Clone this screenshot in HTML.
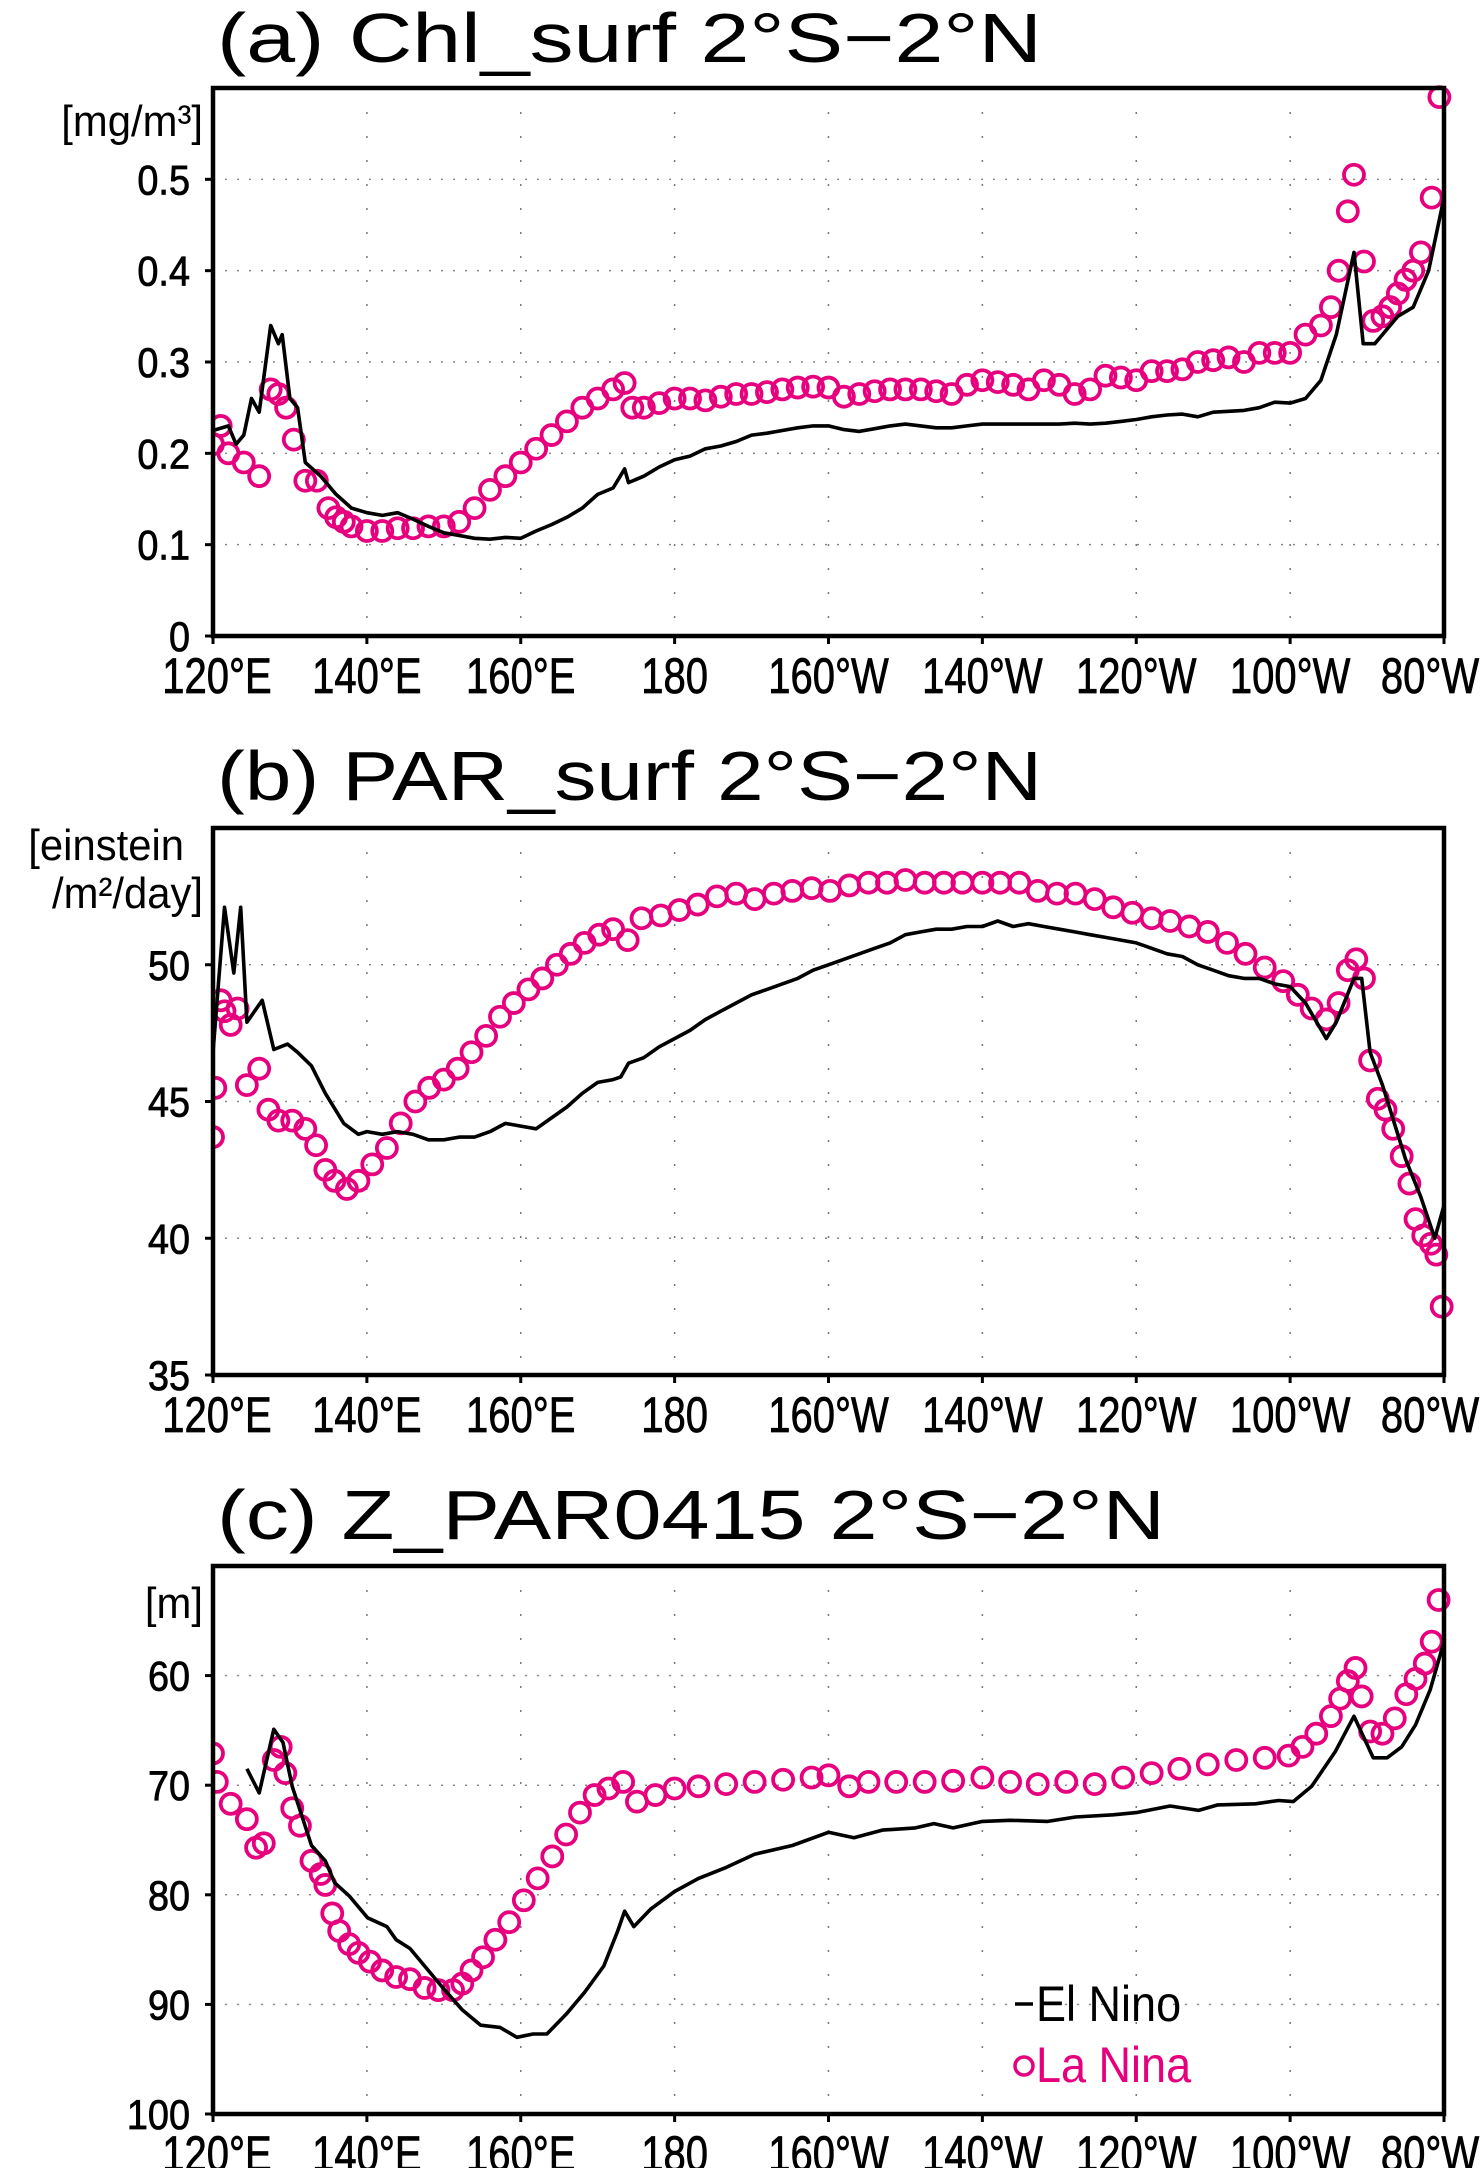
<!DOCTYPE html>
<html><head><meta charset="utf-8"><style>
html,body{margin:0;padding:0;background:#fff;}
svg{display:block;}
text{font-family:"Liberation Sans",sans-serif;}
</style></head><body>
<svg id="chart" xmlns="http://www.w3.org/2000/svg" width="1480" height="2168" viewBox="0 0 1480 2168"></svg>
<script>
// ---------- shared axis data ----------
const xTickLon = [120,140,160,180,200,220,240,260,280];
const xTickLabels = ["120°E","140°E","160°E","180","160°W","140°W","120°W","100°W","80°W"];

// ---------- panel (a) Chl_surf ----------
const aTicks = [0,0.1,0.2,0.3,0.4,0.5];
const aTickLabels = ["0","0.1","0.2","0.3","0.4","0.5"];
const aElLon = [120,122,123,124,125,126,127.5,128.5,129,130,131,132,134,136,138,140,142,144,146,148,150,152,154,156,158,160,162,164,166,168,170,172,173.5,174,176,178,180,182,184,186,188,190,192,194,196,198,200,202,204,206,208,210,212,214,216,218,220,222,224,226,228,230,232,234,236,238,240,242,244,246,248,250,252,254,256,258,260,262,264,266,268.3,269.5,271,272,274,276,278,280];
const aElVal = [0.225,0.23,0.21,0.22,0.26,0.245,0.34,0.32,0.33,0.26,0.25,0.19,0.175,0.155,0.14,0.135,0.132,0.135,0.128,0.12,0.113,0.11,0.107,0.106,0.108,0.107,0.115,0.122,0.13,0.14,0.155,0.162,0.183,0.168,0.175,0.185,0.193,0.197,0.205,0.208,0.213,0.22,0.222,0.225,0.228,0.23,0.23,0.226,0.224,0.227,0.23,0.232,0.23,0.228,0.228,0.23,0.232,0.232,0.232,0.232,0.232,0.232,0.233,0.232,0.233,0.235,0.237,0.24,0.242,0.243,0.24,0.245,0.246,0.247,0.25,0.256,0.255,0.26,0.28,0.33,0.42,0.32,0.32,0.33,0.35,0.36,0.40,0.48];
const aLaLon = [120,121,122,124,126,127.5,128.5,129.5,130.5,132,133.5,135,136,137,138,140,142,144,146,148,150,152,154,156,158,160,162,164,166,168,170,172,173.5,174.5,176,178,180,182,184,186,188,190,192,194,196,198,200,202,204,206,208,210,212,214,216,218,220,222,224,226,228,230,232,234,236,238,240,242,244,246,248,250,252,254,256,258,260,262,264,265.3,266.3,267.5,268.3,269.6,270.8,272,273,274,275,276,277,278.4,279.4];
const aLaVal = [0.21,0.23,0.20,0.19,0.175,0.27,0.265,0.25,0.215,0.17,0.17,0.14,0.13,0.125,0.12,0.115,0.115,0.118,0.118,0.12,0.12,0.125,0.14,0.16,0.175,0.19,0.205,0.22,0.235,0.25,0.26,0.27,0.277,0.25,0.25,0.255,0.26,0.26,0.258,0.262,0.265,0.265,0.267,0.27,0.272,0.273,0.272,0.262,0.265,0.268,0.27,0.27,0.27,0.268,0.265,0.275,0.28,0.278,0.275,0.27,0.28,0.275,0.265,0.27,0.285,0.283,0.28,0.29,0.29,0.292,0.30,0.302,0.305,0.30,0.31,0.31,0.31,0.33,0.34,0.36,0.40,0.465,0.505,0.41,0.345,0.35,0.36,0.375,0.39,0.40,0.42,0.48,0.59];

// ---------- panel (b) PAR_surf ----------
const bTicks = [35,40,45,50];
const bTickLabels = ["35","40","45","50"];
const bElLon = [120,121.5,122.7,123.6,124.4,126.4,127.9,129.7,131,132.8,134.6,137,138.9,140,142,144,146,148,150,152,154,156,158,160,162,164,166,168,170,172,173,174,176,178,180,182,184,186,188,190,192,194,196,198,200,202,204,206,208,210,212,214,216,218,220,222,224,226,228,230,232,234,236,238,240,242,244,246,248,250,252,254,256,258,260,262,264.7,266,268.3,269.3,270.4,272,274,275,277,278.8,280];
const bElVal = [46.8,52.1,49.7,52.1,47.9,48.7,46.9,47.1,46.8,46.3,45.3,44.2,43.8,43.9,43.8,43.9,43.8,43.6,43.6,43.7,43.7,43.9,44.2,44.1,44.0,44.4,44.8,45.3,45.7,45.8,45.9,46.4,46.6,47.0,47.3,47.6,48.0,48.3,48.6,48.9,49.1,49.3,49.5,49.8,50.0,50.2,50.4,50.6,50.8,51.1,51.2,51.3,51.3,51.4,51.4,51.6,51.4,51.5,51.4,51.3,51.2,51.1,51.0,50.9,50.8,50.6,50.4,50.3,50.0,49.8,49.6,49.5,49.5,49.3,49.2,48.6,47.3,47.9,49.5,49.5,46.8,45.6,43.8,42.9,41.5,40.0,41.2];
const bLaLon = [120,120.3,121,121.5,122.3,123.2,124.4,126,127.2,128.5,130.3,132,133.4,134.6,135.8,137.4,138.9,140.7,142.6,144.4,146.3,148.1,150,151.8,153.6,155.5,157.3,159.1,161,162.8,164.7,166.5,168.3,170.2,172,173.9,175.7,178.2,180.6,183,185.5,188,190.4,192.9,195.3,197.8,200.2,202.7,205.2,207.6,210,212.5,215,217.4,220,222.3,224.8,227.2,229.7,232.1,234.6,237,239.5,242,244.4,246.9,249.3,251.8,254.2,256.7,259.1,261,262.8,264.7,266.3,267.5,268.6,269.6,270.4,271.4,272.4,273.4,274.5,275.5,276.3,277.3,278.3,279,279.7];
const bLaVal = [43.7,45.5,48.7,48.3,47.8,48.4,45.6,46.2,44.7,44.3,44.3,44.0,43.4,42.5,42.1,41.8,42.1,42.7,43.3,44.2,45.0,45.5,45.8,46.2,46.8,47.4,48.1,48.6,49.1,49.5,50.0,50.4,50.8,51.1,51.3,50.9,51.7,51.8,52.0,52.2,52.5,52.6,52.4,52.6,52.7,52.8,52.7,52.9,53.0,53.0,53.1,53.0,53.0,53.0,53.0,53.0,53.0,52.7,52.6,52.6,52.4,52.1,51.9,51.7,51.6,51.4,51.2,50.8,50.4,49.9,49.4,48.9,48.4,48.0,48.6,49.8,50.2,49.5,46.5,45.1,44.7,44.0,43.0,42.0,40.7,40.1,39.8,39.4,37.5];

// ---------- panel (c) Z_PAR0415 ----------
const cTicks = [60,70,80,90,100];
const cTickLabels = ["60","70","80","90","100"];
const cElLon = [124.4,126,127.9,129.1,130.3,132.8,134.6,135.8,137.7,140.1,142.6,143.8,145.6,147.5,149.9,152.4,154.8,157.3,159.5,161.6,163.4,165.9,168.3,170.8,172.6,173.5,174.7,176.9,180,183.1,186.7,190.4,195.3,200,203.3,207,211.3,213.7,216.2,220,223.6,228.5,232.1,237,240,244.4,248.1,250.6,255.5,258.5,260.4,262.8,265.9,268.3,270.8,272.6,274.5,276.3,278.2,280];
const cElVal = [68.5,70.7,64.9,66.1,70.1,75.5,76.9,78.9,80.1,82.1,82.9,84.1,84.9,86.5,88.5,90.5,91.9,92.1,93.0,92.7,92.7,90.9,88.9,86.5,83.3,81.5,82.9,81.3,79.7,78.5,77.5,76.3,75.5,74.3,74.8,74.1,73.9,73.5,73.9,73.3,73.2,73.3,72.9,72.7,72.5,71.9,72.3,71.8,71.7,71.4,71.5,70.1,66.9,63.7,67.5,67.5,66.5,64.5,61.3,56.9];
const cLaLon = [120,120.5,122.3,124.4,125.6,126.6,127.9,128.8,129.4,130.3,131.3,132.8,134,134.6,135.5,136.4,137.7,138.9,140.4,142,143.8,145.6,147.5,149.3,151.2,152.4,153.6,155.1,156.7,158.5,160.4,162.2,164.1,165.9,167.7,169.6,171.4,173.3,175.1,177.5,180,183.1,186.7,190.4,194.1,197.8,200,202.7,205.2,208.8,212.5,216.2,220,223.6,227.2,230.9,234.6,238.3,242,245.6,249.3,253,256.7,259.8,261.6,263.4,265.3,266.5,267.5,268.5,269.3,270.4,272,273.6,275.1,276.3,277.5,278.4,279.3];
const cLaVal = [67.1,69.7,71.7,73.1,75.7,75.3,67.7,66.5,68.9,72.1,73.7,76.9,78.1,79.1,81.7,83.3,84.5,85.3,86.1,86.9,87.5,87.7,88.5,88.7,88.7,88.1,86.9,85.7,84.1,82.5,80.5,78.5,76.5,74.5,72.5,70.9,70.3,69.7,71.5,70.9,70.3,70.1,69.9,69.7,69.5,69.3,69.1,70.1,69.7,69.7,69.7,69.6,69.3,69.7,69.9,69.7,69.9,69.3,68.9,68.5,68.1,67.7,67.5,67.3,66.5,65.3,63.7,62.1,60.5,59.3,61.9,65.1,65.3,63.9,61.7,60.3,58.9,56.9,53.1];

const NS = "http://www.w3.org/2000/svg";
const svg = document.getElementById('chart');
const MAG = "#e6007e";
const X0 = 213, X1 = 1444;
function xScale(lon){ return X0 + (lon-120)/(280-120)*(X1-X0); }
function mk(tag, attrs, parent){
  const e = document.createElementNS(NS, tag);
  for (const k in attrs) e.setAttribute(k, attrs[k]);
  (parent||svg).appendChild(e);
  return e;
}
function squeeze(el, f){
  try { const w = el.getComputedTextLength(); if (w>0){ el.setAttribute('textLength', (w*f).toFixed(1)); el.setAttribute('lengthAdjust','spacingAndGlyphs'); } } catch(e){}
}

function panel(cfg){
  const g = mk('g', {});
  
  
  const yS = v => cfg.top + (v - cfg.vTop)/(cfg.vBot - cfg.vTop)*(cfg.bot - cfg.top);
  const t = mk('text', {x:217, y:cfg.titleY, 'font-size':70, fill:'#000', textLength:cfg.titleW, lengthAdjust:'spacingAndGlyphs'}, g);
  t.textContent = cfg.title;
  
  
  xTickLon.forEach(lon => {
    const l = mk('line', {x1:xScale(lon), x2:xScale(lon), y1:cfg.top, y2:cfg.bot, stroke:'#777', 'stroke-width':1.5, 'stroke-dasharray':'2 22'}, g);
    
    
  });
  cfg.ticks.forEach(v => {
    const l = mk('line', {x1:X0, x2:X1, y1:yS(v), y2:yS(v), stroke:'#888', 'stroke-width':1.5, 'stroke-dasharray':'2 10'}, g);
    
    
  });
  cfg.ticks.forEach((v,i) => {
    const tk = mk('line', {x1:X0-8, x2:X0, y1:yS(v), y2:yS(v), stroke:'#000', 'stroke-width':3}, g);
    
    
    const lb = mk('text', {x:190, y:yS(v)+15, 'font-size':42, 'text-anchor':'end', fill:'#000', 'stroke':'#000', 'stroke-width':0.8}, g);
    lb.textContent = cfg.tickLabels[i];
    
    
    squeeze(lb, 0.9);
  });
  xTickLon.forEach((lon,i) => {
    const tk = mk('line', {x1:xScale(lon), x2:xScale(lon), y1:cfg.bot, y2:cfg.bot+8, stroke:'#000', 'stroke-width':3}, g);
    
    
    let cx = xScale(lon);
    if (i === 0) cx = 217;
    if (i === xTickLabels.length-1) cx = 1430;
    const lb = mk('text', {x:cx, y:cfg.bot+57, 'font-size':50, 'text-anchor':'middle', fill:'#000', 'stroke':'#000', 'stroke-width':0.8}, g);
    lb.textContent = xTickLabels[i];
    
    
    squeeze(lb, 0.8);
  });
  cfg.units.forEach(u => {
    const lb = mk('text', {x:u[1], y:u[2], 'font-size':44, fill:'#000', 'text-anchor':'end'}, g);
    lb.textContent = u[0];
    
    
    squeeze(lb, 0.95);
  });
  const cid = 'clip-' + cfg.name;
  const cp = mk('clipPath', {id:cid}, g);
  mk('rect', {x:X0, y:cfg.top-14, width:X1-X0+14, height:cfg.bot-cfg.top+14}, cp);
  const cg = mk('g', {'clip-path':`url(#${cid})`}, g);
  
  
  cfg.laLon.forEach((lon,i) => {
    const c = mk('circle', {cx:xScale(lon), cy:yS(cfg.laVal[i]), r:10, fill:'none', stroke:MAG, 'stroke-width':3.8}, cg);
    
    
  });
  const d = cfg.elLon.map((lon,i) => (i?'L':'M') + xScale(lon).toFixed(1) + ' ' + yS(cfg.elVal[i]).toFixed(1)).join(' ');
  const p = mk('path', {d:d, fill:'none', stroke:'#000', 'stroke-width':3.6, 'stroke-linejoin':'round', 'clip-path':`url(#${cid})`}, g);
  
  
  const fr = mk('rect', {x:X0, y:cfg.top, width:X1-X0, height:cfg.bot-cfg.top, fill:'none', stroke:'#000', 'stroke-width':4.5}, g);
  
  
  return g;
}

panel({name:'panel-a-chl-surf', title:'(a)  Chl_surf  2°S−2°N', titleY:62, titleW:825,
  top:88, bot:636, vTop:0.6, vBot:0, ticks:aTicks, tickLabels:aTickLabels,
  units:[['[mg/m³]',203,136]], elLon:aElLon, elVal:aElVal, laLon:aLaLon, laVal:aLaVal});
panel({name:'panel-b-par-surf', title:'(b)  PAR_surf 2°S−2°N', titleY:800, titleW:825,
  top:828, bot:1375, vTop:55, vBot:35, ticks:bTicks, tickLabels:bTickLabels,
  units:[['[einstein',184,860],['/m²/day]',203,908]], elLon:bElLon, elVal:bElVal, laLon:bLaLon, laVal:bLaVal});
panel({name:'panel-c-z-par0415', title:'(c)  Z_PAR0415  2°S−2°N', titleY:1539, titleW:948,
  top:1566, bot:2114, vTop:50, vBot:100, ticks:cTicks, tickLabels:cTickLabels,
  units:[['[m]',203,1618]], elLon:cElLon, elVal:cElVal, laLon:cLaLon, laVal:cLaVal});

const lg = mk('g', {});


const l1 = mk('line', {x1:1015, x2:1033, y1:2004, y2:2004, stroke:'#000', 'stroke-width':3.5}, lg);


const t1 = mk('text', {x:1036, y:2021, 'font-size':50, fill:'#000'}, lg);
t1.textContent = 'El Nino';


squeeze(t1, 0.9);
const c1 = mk('circle', {cx:1024, cy:2066, r:9, fill:'none', stroke:MAG, 'stroke-width':3.5}, lg);


const t2 = mk('text', {x:1036, y:2082, 'font-size':50, fill:MAG}, lg);
t2.textContent = 'La Nina';


squeeze(t2, 0.9);
</script>
</body></html>
